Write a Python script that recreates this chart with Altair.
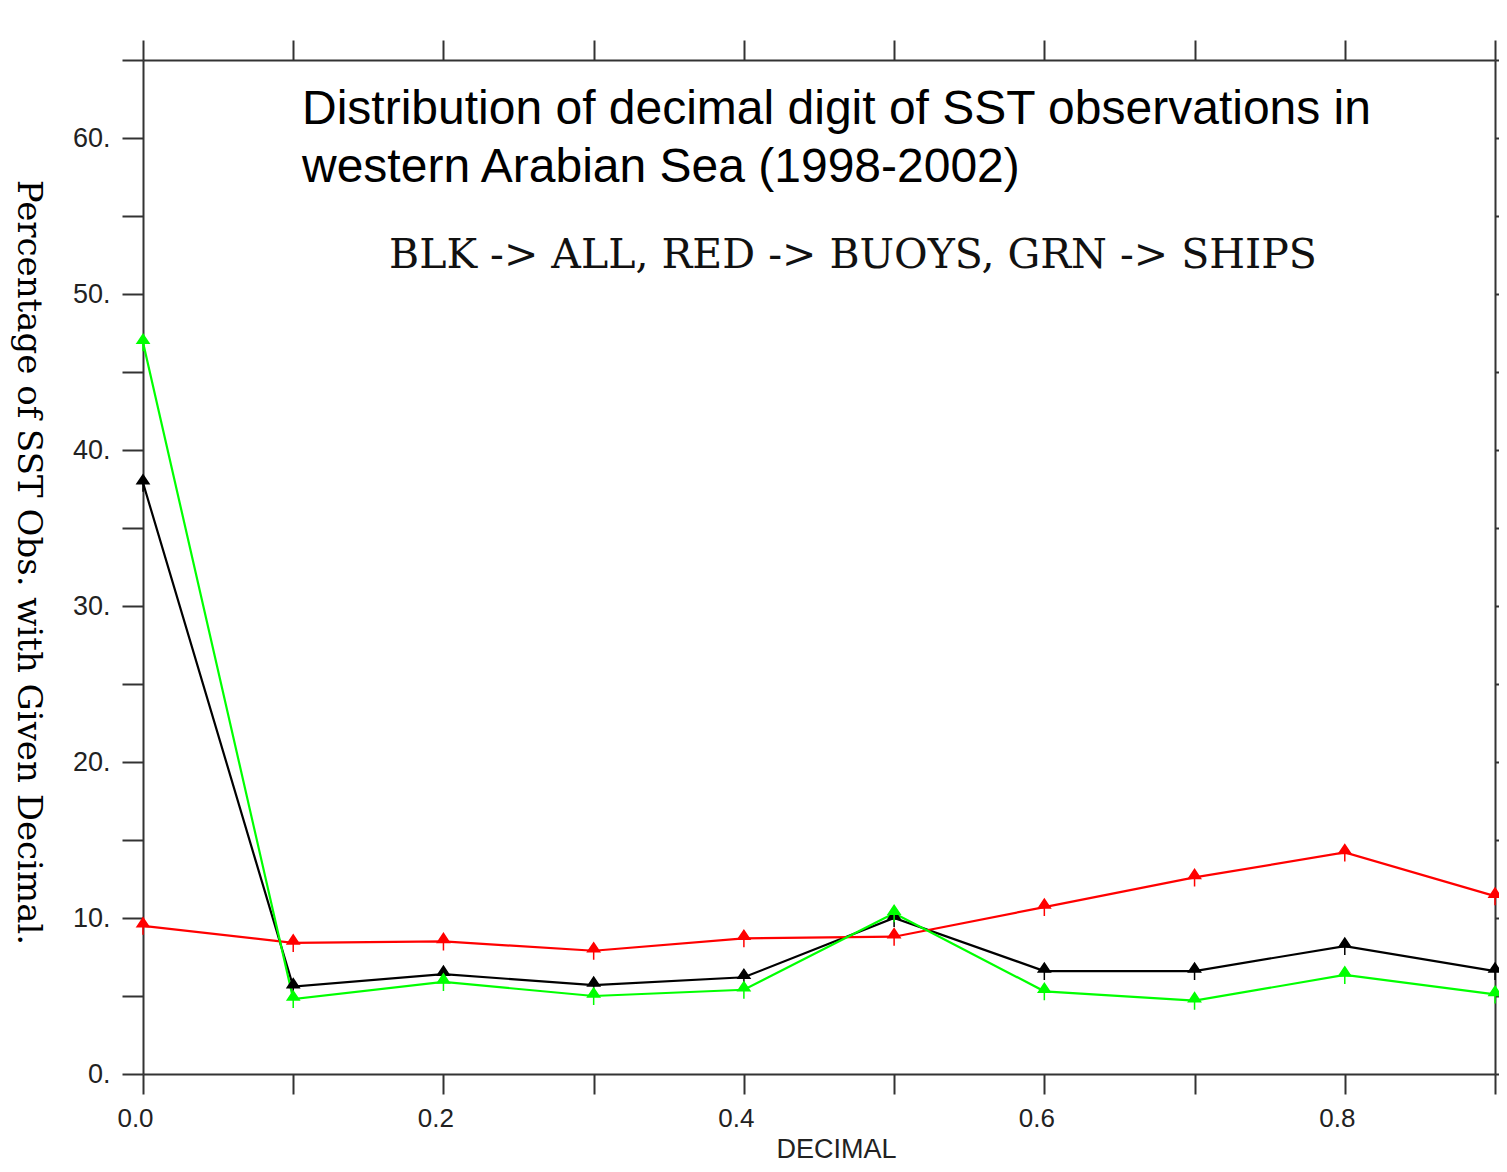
import altair as alt
import pandas as pd

# ---- data ----
decimals = [0.0, 0.1, 0.2, 0.3, 0.4, 0.5, 0.6, 0.7, 0.8, 0.9]
all_obs = [37.9, 5.6, 6.4, 5.7, 6.2, 10.0, 6.6, 6.6, 8.2, 6.6]
buoys = [9.5, 8.4, 8.5, 7.9, 8.7, 8.8, 10.7, 12.6, 14.2, 11.4]
ships = [46.9, 4.8, 5.9, 5.0, 5.4, 10.3, 5.3, 4.7, 6.35, 5.1]
series_names = ["ALL", "BUOYS", "SHIPS"]
series_colors = ["#000000", "#ff0000", "#00ff00"]
x_ticks = [0.0, 0.1, 0.2, 0.3, 0.4, 0.5, 0.6, 0.7, 0.8, 0.9]
y_ticks = [0, 5, 10, 15, 20, 25, 30, 35, 40, 45, 50, 55, 60, 65]
title_lines = ["Distribution of decimal digit of SST observations in",
               "western Arabian Sea (1998-2002)"]
key_text = "BLK -> ALL, RED -> BUOYS, GRN -> SHIPS"
x_title = "DECIMAL"
y_title = "Percentage of SST Obs. with Given Decimal."

rows = []
for name, vals in zip(series_names, [all_obs, buoys, ships]):
    for d, v in zip(decimals, vals):
        rows.append({"decimal": d, "pct": v, "series": name})
df = pd.DataFrame(rows)

x_scale = alt.Scale(domain=[0, 0.9], nice=False, zero=False)
y_scale = alt.Scale(domain=[0, 65], nice=False)
color_scale = alt.Scale(domain=series_names, range=series_colors)

AX = "#333333"
SANS = "Liberation Sans"
SERIF = "DejaVu Serif"

bottom_axis = alt.Axis(
    orient="bottom", values=x_ticks,
    labelExpr="round(datum.value*10) % 2 == 0 ? format(datum.value, '.1f') : ''",
    tickSize=20, tickWidth=2, tickColor=AX, domainColor=AX, domainWidth=2,
    labelFont=SANS, labelFontSize=26, labelColor="#222222", labelPadding=11,
    labelFlush=False, labelOverlap=False, labelOffset=-8,
    title=x_title, titleFont=SANS, titleFontSize=27, titleFontWeight="normal",
    titleColor="#222222", titlePadding=5, titleX=693, grid=False,
)
top_axis = alt.Axis(
    orient="top", values=x_ticks, labels=False, title=None,
    tickSize=20, tickWidth=2, tickColor=AX, domainColor=AX, domainWidth=2, grid=False,
)
left_axis = alt.Axis(
    orient="left", values=y_ticks,
    labelExpr="datum.value % 10 == 0 ? format(datum.value, 'd') + '.' : ''",
    tickSize=21, tickWidth=2, tickColor=AX, domainColor=AX, domainWidth=2,
    labelFont=SANS, labelFontSize=27, labelColor="#222222", labelPadding=12,
    labelFlush=False, labelOverlap=False,
    title=y_title, titleFont=SERIF, titleFontSize=34, titleFontWeight="normal",
    titleColor="#000000", titleAngle=90, titleBaseline="top", titlePadding=28,
    titleY=502, grid=False,
)
right_axis = alt.Axis(
    orient="right", values=y_ticks, labels=False, title=None,
    tickSize=4, tickWidth=2, tickColor=AX, domainColor=AX, domainWidth=2, grid=False,
)

base = alt.Chart(df)

lines = base.mark_line(strokeWidth=2.2).encode(
    x=alt.X("decimal:Q", scale=x_scale, axis=bottom_axis),
    y=alt.Y("pct:Q", scale=y_scale, axis=left_axis),
    color=alt.Color("series:N", scale=color_scale, legend=None),
)

marker = "M-0.6,0.1L0,-0.8L0.6,0.1Z M0,-0.8L0,0.9"
points = base.mark_point(shape=marker, size=400, filled=True, strokeWidth=1.5, opacity=1).encode(
    x=alt.X("decimal:Q", scale=x_scale, axis=top_axis),
    y=alt.Y("pct:Q", scale=y_scale, axis=right_axis),
    fill=alt.Fill("series:N", scale=color_scale, legend=None),
    stroke=alt.Stroke("series:N", scale=color_scale, legend=None),
)

title_txt = alt.Chart(pd.DataFrame({"t": ["\n".join(title_lines)]})).mark_text(
    align="left", baseline="alphabetic", font=SANS, fontSize=48,
    lineBreak="\n", lineHeight=58, color="#000000",
).encode(text="t:N", x=alt.value(159), y=alt.value(64))

key_txt = alt.Chart(pd.DataFrame({"t": [key_text]})).mark_text(
    align="center", baseline="alphabetic", font=SERIF, fontSize=41, color="#111111",
).encode(text="t:N", x=alt.value(710), y=alt.value(208))

chart = alt.layer(lines, points, title_txt, key_txt).resolve_axis(
    x="independent", y="independent"
).properties(
    width=1352, height=1014,
    autosize=alt.AutoSizeParams(type="none"),
    padding={"left": 135, "top": 52, "right": 4, "bottom": 90},
    background="white",
).configure_view(stroke=None)

chart.save("out.html", embed_options={"renderer": "svg", "actions": False})
